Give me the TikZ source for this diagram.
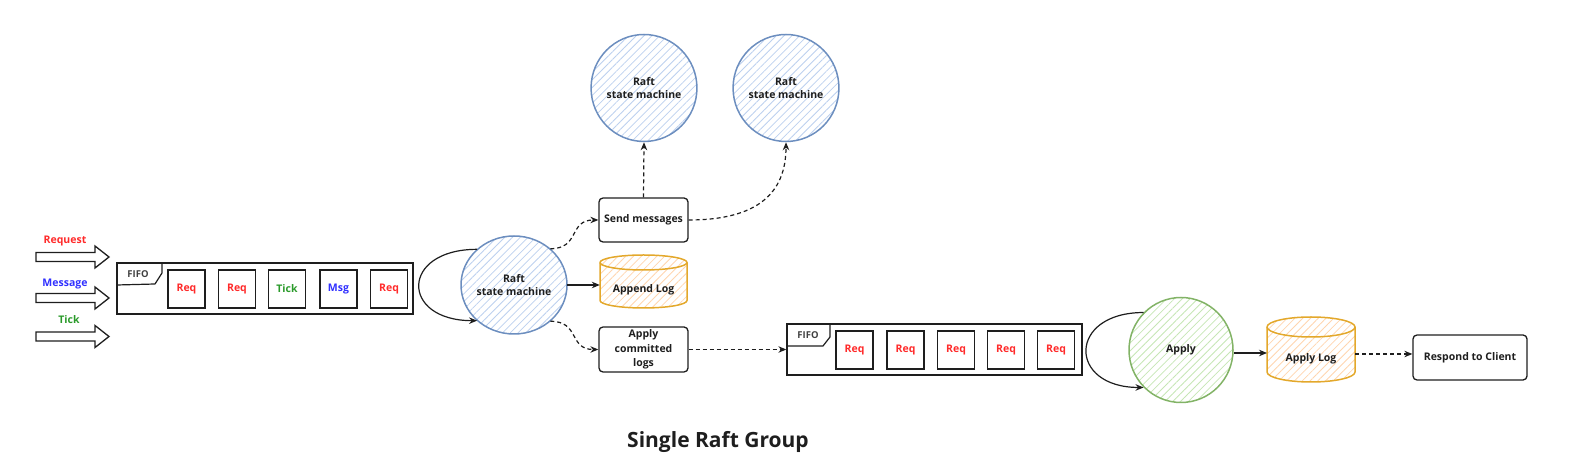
\documentclass[tikz,border=0pt]{standalone}
\usepackage{fontspec}
\setmainfont{Open Sans}
\usetikzlibrary{arrows.meta,patterns.meta,shapes.geometric}
\definecolor{cblue}{HTML}{6C8EBF}
\definecolor{hblue}{HTML}{BCD0EE}
\definecolor{cgreen}{HTML}{82B366}
\definecolor{hgreen}{HTML}{C6E6B5}
\definecolor{corange}{HTML}{E3A82B}
\definecolor{horange}{HTML}{FFD5AE}
\definecolor{tred}{HTML}{FF2A2A}
\definecolor{tgreen}{HTML}{2A9A2A}
\definecolor{tblue}{HTML}{3030FF}
\definecolor{ink}{HTML}{1E1E1E}
\begin{document}
\begin{tikzpicture}[x=1pt,y=1pt,
  txt/.style={font=\bfseries\fontsize{10.5}{12.5}\selectfont, text=ink, align=center},
  qbox/.style={draw=ink, line width=1.3pt, minimum width=37, minimum height=38, inner sep=0pt, font=\bfseries\fontsize{10.5}{12.5}\selectfont},
  fifobox/.style={draw=ink, line width=1.3pt, minimum height=51, inner sep=0pt},
  tagline/.style={draw=ink, line width=1.2pt, line join=round},
  actbox/.style={draw=ink, line width=1.3pt, rounded corners=4pt, inner sep=1pt, txt},
  bluecirc/.style={ellipse, draw=cblue, line width=1.5pt, pattern={Lines[angle=45,distance=5.5pt,line width=0.8pt]}, pattern color=hblue, inner sep=0pt, txt},
  greencirc/.style={ellipse, draw=cgreen, line width=1.5pt, pattern={Lines[angle=45,distance=5.5pt,line width=0.8pt]}, pattern color=hgreen, inner sep=0pt, txt},
  cyl/.style={draw=corange, line width=1.5pt, pattern={Lines[angle=45,distance=5.5pt,line width=0.8pt]}, pattern color=horange},
  cylfront/.style={draw=corange, line width=1.5pt},
  blockarr/.style={draw=ink, line width=1.3pt, line join=miter, fill=white},
  solidarr/.style={draw=ink, line width=1.2pt, -{Stealth[length=8pt,width=6.5pt]}},
  dasharr/.style={draw=ink, line width=1.2pt, dash pattern=on 4pt off 3pt, -{Stealth[length=8pt,width=6.5pt]}},
  looparr/.style={draw=ink, line width=1.2pt, -{Stealth[length=8pt,width=6.5pt]}}
]
\useasboundingbox (0,0) rectangle (1570,462);

% ---------- input block arrows ----------
\node[txt, text=tred] (lreq) at (65,221) {Request};
\node[txt, text=tblue] (lmsg) at (65,178) {Message};
\node[txt, text=tgreen] (ltick) at (69,142) {Tick};
\draw[blockarr] (36,209.5) -- (95,209.5) -- (95,216) -- (109,205) -- (95,194) -- (95,200.5) -- (36,200.5) -- cycle;
\draw[blockarr] (36,168.5) -- (95,168.5) -- (95,175) -- (109,164) -- (95,153) -- (95,159.5) -- (36,159.5) -- cycle;
\draw[blockarr] (36,130) -- (95,130) -- (95,136.5) -- (109,125.5) -- (95,114.5) -- (95,121) -- (36,121) -- cycle;

% ---------- FIFO 1 ----------
\node[fifobox, minimum width=296] (fifo1) at (265,173.5) {};
\draw[tagline] (117,199) -- (162,199) -- (162,189) -- (155,178) -- (117,177);
\node[txt, font=\bfseries\fontsize{9.5}{11}\selectfont, text=ink!85] (tag1) at (138,188) {FIFO};
\node[qbox, text=tred] (q11) at (186.5,173) {Req};
\node[qbox, text=tred] (q12) at (237,173) {Req};
\node[qbox, text=tgreen] (q13) at (287,173) {Tick};
\node[qbox, text=tblue] (q14) at (338.5,173) {Msg};
\node[qbox, text=tred] (q15) at (389,173) {Req};

% ---------- Raft state machine ----------
\node[bluecirc, minimum width=106, minimum height=98] (rsm) at (514,177) {Raft\\state machine};
\draw[looparr] (rsm.136) .. controls +(-77,0) and +(-77,0) .. (rsm.224);

\node[bluecirc, minimum width=105, minimum height=107] (peer1) at (644,374) {Raft\\state machine};
\node[bluecirc, minimum width=105, minimum height=107] (peer2) at (786,374) {Raft\\state machine};

\node[actbox, minimum width=89, minimum height=44] (send) at (643.5,242) {Send messages};
\node[actbox, minimum width=89, minimum height=45, font=\bfseries\fontsize{10.5}{14.5}\selectfont] (applyc) at (643.5,112.5) {Apply\\committed\\logs};

% Append Log cylinder
\draw[cyl] (600,199.5) -- (600,161.5) arc[start angle=180,end angle=360,x radius=43.5,y radius=7.5] -- (687,199.5) arc[start angle=0,end angle=180,x radius=43.5,y radius=7.5] -- cycle;
\draw[cylfront] (600,199.5) arc[start angle=180,end angle=360,x radius=43.5,y radius=7.5];
\node[txt, minimum width=87, minimum height=30, inner sep=0pt] (alog) at (643.5,172) {Append Log};

\draw[solidarr] (rsm.east) -- (rsm.east -| alog.west);
\draw[dasharr] (rsm.45) .. controls +(30,0) and +(-30,0) .. (send.west);
\draw[dasharr] (rsm.-45) .. controls +(30,0) and +(-30,0) .. (applyc.west);
\draw[dasharr] (send.north) -- (peer1.south);
\draw[dasharr] (send.east) .. controls +(70,0) and +(0,-50) .. (peer2.south);

% ---------- FIFO 2 ----------
\node[fifobox, minimum width=295] (fifo2) at (934.5,112.5) {};
\draw[tagline] (787,138) -- (830,138) -- (830,125) -- (823,116) -- (787,116);
\node[txt, font=\bfseries\fontsize{9.5}{11}\selectfont, text=ink!85] (tag2) at (808,127) {FIFO};
\node[qbox, text=tred] (q21) at (854.5,112) {Req};
\node[qbox, text=tred] (q22) at (905.5,112) {Req};
\node[qbox, text=tred] (q23) at (956,112) {Req};
\node[qbox, text=tred] (q24) at (1006,112) {Req};
\node[qbox, text=tred] (q25) at (1056,112) {Req};

\draw[dasharr] (applyc.east) -- (fifo2.west);

% ---------- Apply ----------
\node[greencirc, minimum width=104, minimum height=105] (apply) at (1181,112) {Apply};
\draw[looparr] (apply.135) .. controls +(-76,0) and +(-76,0) .. (apply.225);

% Apply Log cylinder
\draw[cyl] (1267,135) -- (1267,90) arc[start angle=180,end angle=360,x radius=44,y radius=10] -- (1355,135) arc[start angle=0,end angle=180,x radius=44,y radius=10] -- cycle;
\draw[cylfront] (1267,135) arc[start angle=180,end angle=360,x radius=44,y radius=10];
\node[txt, minimum width=88, minimum height=30, inner sep=0pt] (aplog) at (1311,103) {Apply Log};

\node[actbox, minimum width=114, minimum height=45] (resp) at (1470,104.5) {Respond to Client};

\draw[solidarr] (apply.east |- 0,109) -- (1267,109);
\draw[dasharr] (1355,108) -- (resp.west |- 0,108);

% ---------- title ----------
\node[font=\bfseries\fontsize{21}{25}\selectfont, text=ink] (title) at (718,20) {Single Raft Group};
\end{tikzpicture}
\end{document}
